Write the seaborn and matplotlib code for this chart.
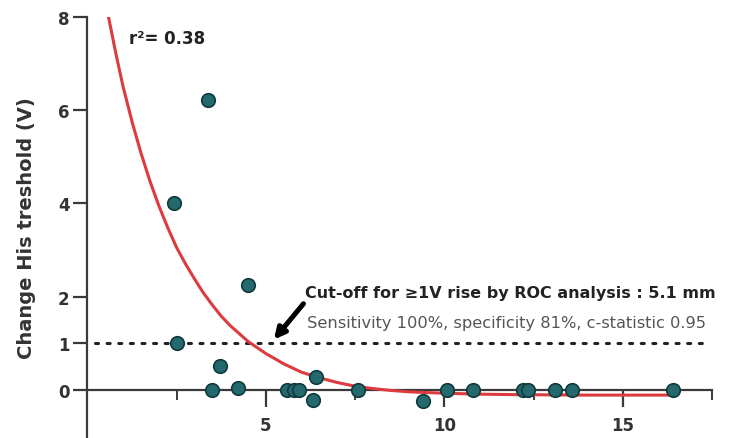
import numpy as np
import pandas as pd
import matplotlib.pyplot as plt
import seaborn as sns
from matplotlib.ticker import FixedLocator

# --- Style ---
sns.set_style("ticks")
plt.rcParams['font.family'] = ['DejaVu Sans']

# --- Data ---
distance_mm = [2.41, 3.39, 2.52, 4.51, 3.70, 3.50, 4.23, 5.60, 5.78, 5.92,
               6.41, 6.33, 7.59, 9.41, 10.06, 10.81, 12.21, 12.35, 13.10,
               13.56, 16.40]
change_v = [4.0, 6.22, 1.0, 2.25, 0.51, 0.0, 0.05, 0.0, 0.0, 0.0,
            0.28, -0.22, 0.0, -0.23, 0.0, 0.0, 0.0, 0.0, 0.0, 0.0, 0.0]

# fitted decay curve
fit_x = [0.59, 0.8, 1.0, 1.25, 1.5, 1.75, 2.0, 2.25, 2.5, 2.75, 3.0, 3.25,
         3.5, 3.75, 4.0, 4.5, 5.0, 5.5, 6.0, 6.5, 7.0, 7.5, 8.0, 8.5, 9.0,
         10.0, 11.0, 12.0, 14.0, 16.4]
fit_y = [8.0, 7.2, 6.5, 5.75, 5.08, 4.48, 3.95, 3.48, 3.05, 2.7, 2.38, 2.08,
         1.82, 1.58, 1.38, 1.04, 0.78, 0.56, 0.38, 0.26, 0.16, 0.08, 0.03,
         -0.01, -0.04, -0.07, -0.09, -0.10, -0.11, -0.11]

cutoff_level = 1.0
cutoff_mm = 5.1
r2_text = "r\u00b2= 0.38"
cut_title = "Cut-off for \u22651V rise by ROC analysis : 5.1 mm"
cut_stats = "Sensitivity 100%, specificity 81%, c-statistic 0.95"
y_ticks = [0, 1, 2, 4, 6, 8]
x_ticks = [5, 10, 15]
x_minor = [2.5, 7.5, 12.5, 17.5]

df = pd.DataFrame({'x': distance_mm, 'y': change_v})
fit = pd.DataFrame({'x': fit_x, 'y': fit_y})

# --- Figure ---
fig = plt.figure(figsize=(7.35, 4.39), dpi=100)
ax = fig.add_axes([0.119, 0.0, 0.85, 0.959])

axis_col = '#3a3a3a'

# dotted cut-off level
ax.plot([0.2, 17.3], [cutoff_level, cutoff_level], color='#222222', lw=2.2,
        linestyle=(0, (1, 2.8)), dash_capstyle='round', zorder=2)

# fitted curve
sns.lineplot(data=fit, x='x', y='y', ax=ax, color='#dd3b3f', lw=2.2,
             estimator=None, sort=False, zorder=3)

# points
sns.scatterplot(data=df, x='x', y='y', ax=ax, s=95, color='#24696d',
                edgecolor='#10393c', linewidth=1.2, zorder=4, clip_on=False)

# annotations
ax.text(1.15, 7.55, r2_text, fontsize=12, fontweight='bold', color='#222222',
        ha='left', va='center')
ax.text(6.1, 2.1, cut_title, fontsize=11.5, fontweight='bold',
        color='#222222', ha='left', va='center')
ax.text(6.15, 1.44, cut_stats, fontsize=11.7, color='#555555',
        ha='left', va='center')
ax.annotate('', xy=(cutoff_mm + 0.12, cutoff_level + 0.08),
            xytext=(6.05, 1.85),
            arrowprops=dict(arrowstyle='-|>', color='black', lw=3.6,
                            mutation_scale=16, shrinkA=0, shrinkB=0))

# --- Axes formatting ---
ax.set_xlim(0, 17.5)
ax.set_ylim(-1.03, 8)
ax.spines['top'].set_visible(False)
ax.spines['right'].set_visible(False)
ax.spines['bottom'].set_position(('data', 0))
for side in ['left', 'bottom']:
    ax.spines[side].set_color(axis_col)
    ax.spines[side].set_linewidth(1.6)

ax.yaxis.set_major_locator(FixedLocator(y_ticks))
ax.xaxis.set_major_locator(FixedLocator(x_ticks))
ax.xaxis.set_minor_locator(FixedLocator(x_minor))
ax.tick_params(axis='y', which='major', length=10, width=1.6,
               color=axis_col, labelsize=12, labelcolor='#333333', pad=3)
ax.tick_params(axis='x', which='major', length=12, width=1.6,
               color=axis_col, labelsize=12, labelcolor='#333333', pad=7)
ax.tick_params(axis='x', which='minor', length=7, width=1.4, color=axis_col)
for lab in ax.get_xticklabels() + ax.get_yticklabels():
    lab.set_fontweight('bold')

ax.set_xlabel('')
ax.set_ylabel('Change His treshold (V)', fontsize=14, fontweight='bold',
              color='#333333')
ax.yaxis.set_label_coords(-0.082, 0.5)

fig.savefig('out.png', dpi=100)
